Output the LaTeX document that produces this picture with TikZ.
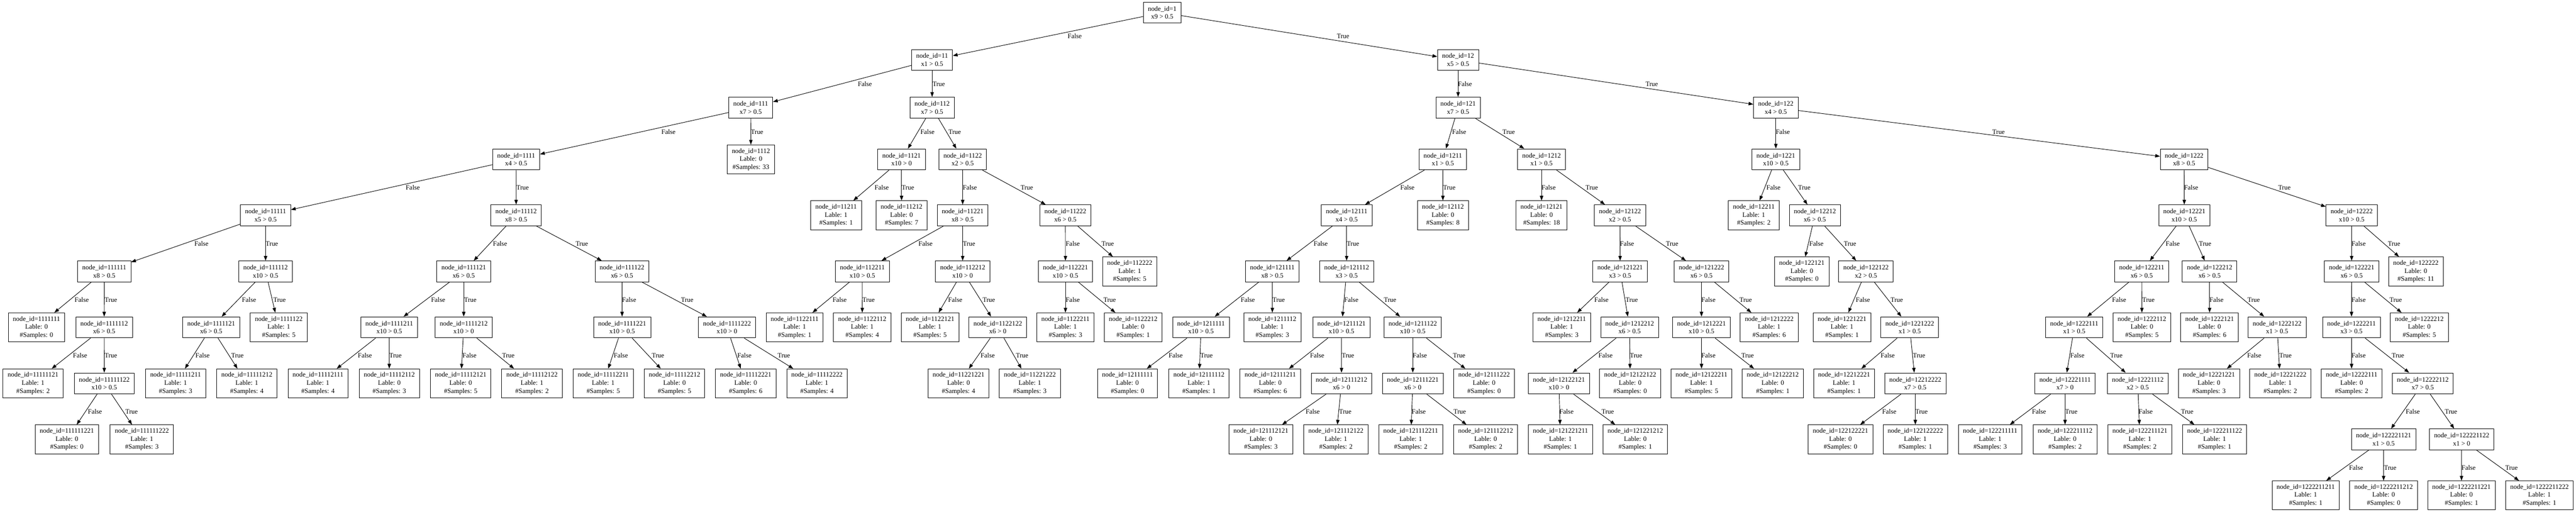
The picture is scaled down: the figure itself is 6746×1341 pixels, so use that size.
\documentclass[tikz,border=0pt]{standalone}
\usepackage{fontspec}
\setmainfont{Liberation Serif}
\usetikzlibrary{arrows.meta}
\tikzset{
  base/.style={draw, line width=1.25pt, rectangle, inner xsep=12pt, inner ysep=0pt, align=center, font=\fontsize{17.5}{21}\selectfont},
  split/.style={base, minimum height=55pt},
  leaf/.style={base, minimum height=76pt},
  edge/.style={line width=1.25pt, -{Triangle[length=12.5pt,width=9pt]}},
  elab/.style={inner sep=0pt, font=\fontsize{17.5}{21}\selectfont},
}
\newcommand{\splitnode}[4]{\node[split] (n#1) at (#2,#3) {node\_id=#1\\#4};}
\newcommand{\leafnode}[5]{\node[leaf] (n#1) at (#2,#3) {node\_id=#1\\Lable: #4\\\#Samples: #5};}
\newcommand{\treeedge}[5]{\draw[edge] (n#1) -- (n#2); \node[elab] (l#2) at (#4,#5) {#3};}
\begin{document}
\begin{tikzpicture}[x=1pt,y=-1pt]
\useasboundingbox (0,0) rectangle (6746,1341);
% level 0
\splitnode{1}{3043.5}{33}{x9 > 0.5}
% level 1
\splitnode{11}{2441}{157}{x1 > 0.5}
\splitnode{12}{3818.4}{157}{x5 > 0.5}
% level 2
\splitnode{111}{1966}{282}{x7 > 0.5}
\splitnode{112}{2441}{282}{x7 > 0.5}
\splitnode{121}{3818.4}{282}{x7 > 0.5}
\splitnode{122}{4650.5}{282}{x4 > 0.5}
% level 3
\splitnode{1111}{1351.7}{417.5}{x4 > 0.5}
\leafnode{1112}{1966.5}{417.5}{0}{33}
\splitnode{1121}{2361}{417.5}{x10 > 0}
\splitnode{1122}{2521}{417.5}{x2 > 0.5}
\splitnode{1211}{3778.4}{417.5}{x1 > 0.5}
\splitnode{1212}{4037}{417.5}{x1 > 0.5}
\splitnode{1221}{4650.5}{417.5}{x10 > 0.5}
\splitnode{1222}{5719.8}{417.5}{x8 > 0.5}
% level 4
\splitnode{11111}{695.5}{564}{x5 > 0.5}
\splitnode{11112}{1351.6}{564}{x8 > 0.5}
\leafnode{11211}{2189.5}{564}{1}{1}
\leafnode{11212}{2361}{564}{0}{7}
\splitnode{11221}{2521}{564}{x8 > 0.5}
\splitnode{11222}{2790}{564}{x6 > 0.5}
\splitnode{12111}{3526.5}{564}{x4 > 0.5}
\leafnode{12112}{3778.7}{564}{0}{8}
\leafnode{12121}{4037}{564}{0}{18}
\splitnode{12122}{4242.4}{564}{x2 > 0.5}
\leafnode{12211}{4592.8}{564}{1}{2}
\splitnode{12212}{4752.8}{564}{x6 > 0.5}
\splitnode{12221}{5720.2}{564}{x10 > 0.5}
\splitnode{12222}{6158.4}{564}{x10 > 0.5}
% level 5
\splitnode{111111}{273.1}{711}{x8 > 0.5}
\splitnode{111112}{695.5}{711}{x10 > 0.5}
\splitnode{111121}{1214.4}{711}{x6 > 0.5}
\splitnode{111122}{1628.8}{711}{x6 > 0.5}
\splitnode{112211}{2258.3}{711}{x10 > 0.5}
\splitnode{112212}{2521}{711}{x10 > 0}
\splitnode{112221}{2790.2}{711}{x10 > 0.5}
\leafnode{112222}{2958.5}{711}{1}{5}
\splitnode{121111}{3332}{711}{x8 > 0.5}
\splitnode{121112}{3526.5}{711}{x3 > 0.5}
\splitnode{121221}{4242.8}{711}{x3 > 0.5}
\splitnode{121222}{4455.8}{711}{x6 > 0.5}
\leafnode{122121}{4718.6}{711}{0}{0}
\splitnode{122122}{4886.5}{711}{x2 > 0.5}
\splitnode{122211}{5608.8}{711}{x6 > 0.5}
\splitnode{122212}{5786.4}{711}{x6 > 0.5}
\splitnode{122221}{6158.4}{711}{x6 > 0.5}
\leafnode{122222}{6326.5}{711}{0}{11}
% level 6
\leafnode{1111111}{95.5}{857.5}{0}{0}
\splitnode{1111112}{272.8}{857.5}{x6 > 0.5}
\splitnode{1111121}{553.1}{857.5}{x6 > 0.5}
\leafnode{1111122}{730}{857.5}{1}{5}
\splitnode{1111211}{1019.4}{857.5}{x10 > 0.5}
\splitnode{1111212}{1214.4}{857.5}{x10 > 0}
\splitnode{1111221}{1629.2}{857.5}{x10 > 0.5}
\splitnode{1111222}{1903.8}{857.5}{x10 > 0}
\leafnode{1122111}{2081}{857.5}{1}{1}
\leafnode{1122112}{2258}{857.5}{1}{4}
\leafnode{1122121}{2435.6}{857.5}{1}{5}
\splitnode{1122122}{2613}{857.5}{x6 > 0}
\leafnode{1122211}{2790.2}{857.5}{1}{3}
\leafnode{1122212}{2967.5}{857.5}{0}{1}
\splitnode{1211111}{3145.2}{857.5}{x10 > 0.5}
\leafnode{1211112}{3332}{857.5}{1}{3}
\splitnode{1211121}{3513.2}{857.5}{x10 > 0.5}
\splitnode{1211122}{3699.8}{857.5}{x10 > 0.5}
\leafnode{1212211}{4090}{857.5}{1}{3}
\splitnode{1212212}{4267.7}{857.5}{x6 > 0.5}
\splitnode{1212221}{4455.8}{857.5}{x10 > 0.5}
\leafnode{1212222}{4633.1}{857.5}{1}{6}
\leafnode{1221221}{4823.8}{857.5}{1}{1}
\splitnode{1221222}{5001.1}{857.5}{x1 > 0.5}
\splitnode{1222111}{5432}{857.5}{x1 > 0.5}
\leafnode{1222112}{5609.2}{857.5}{0}{5}
\leafnode{1222121}{5786.4}{857.5}{0}{6}
\splitnode{1222122}{5963.3}{857.5}{x1 > 0.5}
\splitnode{1222211}{6158}{857.5}{x3 > 0.5}
\leafnode{1222212}{6335.7}{857.5}{0}{5}
% level 7
\leafnode{11111121}{86.5}{1004.3}{1}{2}
\splitnode{11111122}{273.1}{1004.3}{x10 > 0.5}
\leafnode{11111211}{459.8}{1004.3}{1}{3}
\leafnode{11111212}{646.4}{1004.3}{1}{4}
\leafnode{11112111}{832.7}{1004.3}{1}{4}
\leafnode{11112112}{1019.4}{1004.3}{0}{3}
\leafnode{11112121}{1206.5}{1004.3}{0}{5}
\leafnode{11112122}{1393.2}{1004.3}{1}{2}
\leafnode{11112211}{1579.8}{1004.3}{1}{5}
\leafnode{11112212}{1766.4}{1004.3}{0}{5}
\leafnode{11112221}{1952.7}{1004.3}{0}{6}
\leafnode{11112222}{2139.4}{1004.3}{1}{4}
\leafnode{11221221}{2510.2}{1004.3}{0}{4}
\leafnode{11221222}{2697}{1004.3}{1}{3}
\leafnode{12111111}{2952.6}{1004.3}{0}{0}
\leafnode{12111112}{3139.8}{1004.3}{1}{1}
\leafnode{12111211}{3326.5}{1004.3}{0}{6}
\splitnode{12111212}{3513.1}{1004.3}{x6 > 0}
\splitnode{12111221}{3699.8}{1004.3}{x6 > 0}
\leafnode{12111222}{3886.5}{1004.3}{0}{0}
\splitnode{12122121}{4082.5}{1004.3}{x10 > 0}
\leafnode{12122122}{4269}{1004.3}{0}{0}
\leafnode{12122211}{4455.9}{1004.3}{1}{5}
\leafnode{12122212}{4642.5}{1004.3}{0}{1}
\leafnode{12212221}{4829.2}{1004.3}{1}{1}
\splitnode{12212222}{5015.8}{1004.3}{x7 > 0.5}
\splitnode{12221111}{5407.9}{1004.3}{x7 > 0}
\splitnode{12221112}{5598.4}{1004.3}{x2 > 0.5}
\leafnode{12221221}{5784.9}{1004.3}{0}{3}
\leafnode{12221222}{5971.7}{1004.3}{1}{2}
\leafnode{12222111}{6158.4}{1004.3}{0}{2}
\splitnode{12222112}{6344.7}{1004.3}{x7 > 0.5}
% level 8
\leafnode{111111221}{175.1}{1151}{0}{0}
\leafnode{111111222}{371.5}{1151}{1}{3}
\leafnode{121112121}{3302}{1151}{0}{3}
\leafnode{121112122}{3498.4}{1151}{1}{2}
\leafnode{121112211}{3694.4}{1151}{1}{2}
\leafnode{121112212}{3890.5}{1151}{0}{2}
\leafnode{121221211}{4086.4}{1151}{1}{1}
\leafnode{121221212}{4282.5}{1151}{0}{1}
\leafnode{122122221}{4819.8}{1151}{0}{0}
\leafnode{122122222}{5015.8}{1151}{1}{1}
\leafnode{122211111}{5211.8}{1151}{1}{3}
\leafnode{122211112}{5407.9}{1151}{0}{2}
\leafnode{122211121}{5603.9}{1151}{1}{2}
\leafnode{122211122}{5799.5}{1151}{1}{1}
\splitnode{122221121}{6242.1}{1151}{x1 > 0.5}
\splitnode{122221122}{6446.4}{1151}{x1 > 0}
% level 9
\leafnode{1222211211}{6038.2}{1297.6}{1}{1}
\leafnode{1222211212}{6242.1}{1297.6}{0}{0}
\leafnode{1222211221}{6446}{1297.6}{0}{1}
\leafnode{1222211222}{6650.3}{1297.6}{1}{1}
% edges rank 0-1
\treeedge{1}{11}{False}{2814.4}{94.5}
\treeedge{1}{12}{True}{3517.1}{94.5}
% rank 1-2
\treeedge{11}{111}{False}{2265}{220.3}
\treeedge{11}{112}{True}{2458.4}{220.3}
\treeedge{12}{121}{False}{3836.4}{220.3}
\treeedge{12}{122}{True}{4325.7}{220.3}
% rank 2-3
\treeedge{111}{1111}{False}{1750.6}{345.2}
\treeedge{111}{1112}{True}{1982.6}{345.2}
\treeedge{112}{1121}{False}{2428.8}{345.2}
\treeedge{112}{1122}{True}{2500.2}{345.2}
\treeedge{121}{1211}{False}{3821.2}{345.2}
\treeedge{121}{1212}{True}{3951}{345.2}
\treeedge{122}{1221}{False}{4668.8}{345.2}
\treeedge{122}{1222}{True}{5233.8}{345.2}
% rank 3-4
\treeedge{1111}{11111}{False}{1081}{491.3}
\treeedge{1111}{11112}{True}{1368.6}{491.3}
\treeedge{1121}{11211}{False}{2309}{491.3}
\treeedge{1121}{11212}{True}{2377.6}{491.3}
\treeedge{1122}{11221}{False}{2539.8}{491.3}
\treeedge{1122}{11222}{True}{2689}{491.3}
\treeedge{1211}{12111}{False}{3685.7}{491.3}
\treeedge{1211}{12112}{True}{3795.3}{491.3}
\treeedge{1212}{12121}{False}{4055.4}{491.3}
\treeedge{1212}{12122}{True}{4168.6}{491.3}
\treeedge{1221}{12211}{False}{4644.3}{491.3}
\treeedge{1221}{12212}{True}{4725}{491.3}
\treeedge{1222}{12221}{False}{5738}{491.3}
\treeedge{1222}{12222}{True}{5982.3}{491.3}
% rank 4-5
\treeedge{11111}{111111}{False}{527.5}{638.4}
\treeedge{11111}{111112}{True}{712}{638.4}
\treeedge{11112}{111121}{False}{1309.5}{638.4}
\treeedge{11112}{111122}{True}{1523.6}{638.4}
\treeedge{11221}{112211}{False}{2423.8}{638.4}
\treeedge{11221}{112212}{True}{2537.6}{638.4}
\treeedge{11222}{112221}{False}{2809.3}{638.4}
\treeedge{11222}{112222}{True}{2900.9}{638.4}
\treeedge{12111}{121111}{False}{3458.7}{638.4}
\treeedge{12111}{121112}{True}{3543}{638.4}
\treeedge{12122}{121221}{False}{4260.8}{638.4}
\treeedge{12122}{121222}{True}{4379}{638.4}
\treeedge{12212}{122121}{False}{4756.7}{638.4}
\treeedge{12212}{122122}{True}{4844.7}{638.4}
\treeedge{12221}{122211}{False}{5689.9}{638.4}
\treeedge{12221}{122212}{True}{5774.7}{638.4}
\treeedge{12222}{122221}{False}{6176.7}{638.4}
\treeedge{12222}{122222}{True}{6269.5}{638.4}
% rank 5-6
\treeedge{111111}{1111111}{False}{214}{785.1}
\treeedge{111111}{1111112}{True}{290.4}{785.1}
\treeedge{111112}{1111121}{False}{652.2}{785.1}
\treeedge{111112}{1111122}{True}{732.2}{785.1}
\treeedge{111121}{1111211}{False}{1147.4}{785.1}
\treeedge{111121}{1111212}{True}{1231.7}{785.1}
\treeedge{111122}{1111221}{False}{1647.5}{785.1}
\treeedge{111122}{1111222}{True}{1799.6}{785.1}
\treeedge{112211}{1122111}{False}{2198.8}{785.1}
\treeedge{112211}{1122112}{True}{2274.6}{785.1}
\treeedge{112212}{1122121}{False}{2501.6}{785.1}
\treeedge{112212}{1122122}{True}{2589.5}{785.1}
\treeedge{112221}{1122211}{False}{2809.3}{785.1}
\treeedge{112221}{1122212}{True}{2905.9}{785.1}
\treeedge{121111}{1211111}{False}{3267.7}{785.1}
\treeedge{121111}{1211112}{True}{3348.4}{785.1}
\treeedge{121112}{1211121}{False}{3538.7}{785.1}
\treeedge{121112}{1211122}{True}{3640.3}{785.1}
\treeedge{121221}{1212211}{False}{4193.8}{785.1}
\treeedge{121221}{1212212}{True}{4273.1}{785.1}
\treeedge{121222}{1212221}{False}{4474}{785.1}
\treeedge{121222}{1212222}{True}{4571.5}{785.1}
\treeedge{122122}{1221221}{False}{4878.5}{785.1}
\treeedge{122122}{1221222}{True}{4967.2}{785.1}
\treeedge{122211}{1222111}{False}{5549.5}{785.1}
\treeedge{122211}{1222112}{True}{5626.3}{785.1}
\treeedge{122212}{1222121}{False}{5804.6}{785.1}
\treeedge{122212}{1222122}{True}{5901.9}{785.1}
\treeedge{122221}{1222211}{False}{6176.7}{785.1}
\treeedge{122221}{1222212}{True}{6273.9}{785.1}
% rank 6-7
\treeedge{1111112}{11111121}{False}{209.7}{931}
\treeedge{1111112}{11111122}{True}{290.4}{931}
\treeedge{1111121}{11111211}{False}{530.4}{931}
\treeedge{1111121}{11111212}{True}{621.9}{931}
\treeedge{1111211}{11112111}{False}{955.6}{931}
\treeedge{1111211}{11112112}{True}{1035.6}{931}
\treeedge{1111212}{11112121}{False}{1229.5}{931}
\treeedge{1111212}{11112122}{True}{1331.2}{931}
\treeedge{1111221}{11112211}{False}{1625.9}{931}
\treeedge{1111221}{11112212}{True}{1723.2}{931}
\treeedge{1111222}{11112221}{False}{1949.5}{931}
\treeedge{1111222}{11112222}{True}{2052.6}{931}
\treeedge{1122122}{11221221}{False}{2586.6}{931}
\treeedge{1122122}{11221222}{True}{2676.7}{931}
\treeedge{1211111}{12111111}{False}{3078.9}{931}
\treeedge{1211111}{12111112}{True}{3159.6}{931}
\treeedge{1211121}{12111211}{False}{3449.4}{931}
\treeedge{1211121}{12111212}{True}{3530}{931}
\treeedge{1211122}{12111221}{False}{3718.2}{931}
\treeedge{1211122}{12111222}{True}{3821.2}{931}
\treeedge{1212212}{12122121}{False}{4204.6}{931}
\treeedge{1212212}{12122122}{True}{4284.6}{931}
\treeedge{1212221}{12122211}{False}{4474}{931}
\treeedge{1212221}{12122212}{True}{4576.6}{931}
\treeedge{1221222}{12212221}{False}{4943.4}{931}
\treeedge{1221222}{12212222}{True}{5025.5}{931}
\treeedge{1222111}{12221111}{False}{5440}{931}
\treeedge{1222111}{12221112}{True}{5542.3}{931}
\treeedge{1222122}{12221221}{False}{5903.3}{931}
\treeedge{1222122}{12221222}{True}{5985.2}{931}
\treeedge{1222211}{12222111}{False}{6176.7}{931}
\treeedge{1222211}{12222112}{True}{6279.7}{931}
% rank 7-8
\treeedge{11111122}{111111221}{False}{248.6}{1078.2}
\treeedge{11111122}{111111222}{True}{344.5}{1078.2}
\treeedge{12111212}{121112121}{False}{3437.8}{1078.2}
\treeedge{12111212}{121112122}{True}{3522.9}{1078.2}
\treeedge{12111221}{121112211}{False}{3715.3}{1078.2}
\treeedge{12111221}{121112212}{True}{3822.7}{1078.2}
\treeedge{12122121}{121221211}{False}{4102.3}{1078.2}
\treeedge{12122121}{121221212}{True}{4210.4}{1078.2}
\treeedge{12212222}{122122221}{False}{4947.7}{1078.2}
\treeedge{12212222}{122122222}{True}{5032}{1078.2}
\treeedge{12221111}{122211111}{False}{5339.8}{1078.2}
\treeedge{12221111}{122211112}{True}{5424.1}{1078.2}
\treeedge{12221112}{122211121}{False}{5619}{1078.2}
\treeedge{12221112}{122211122}{True}{5727.9}{1078.2}
\treeedge{12222112}{122221121}{False}{6318.5}{1078.2}
\treeedge{12222112}{122221122}{True}{6418.6}{1078.2}
% rank 8-9
\treeedge{122221121}{1222211211}{False}{6170.1}{1225.5}
\treeedge{122221121}{1222211212}{True}{6259.3}{1225.5}
\treeedge{122221122}{1222211221}{False}{6464.6}{1225.5}
\treeedge{122221122}{1222211222}{True}{6577.2}{1225.5}
\end{tikzpicture}
\end{document}
